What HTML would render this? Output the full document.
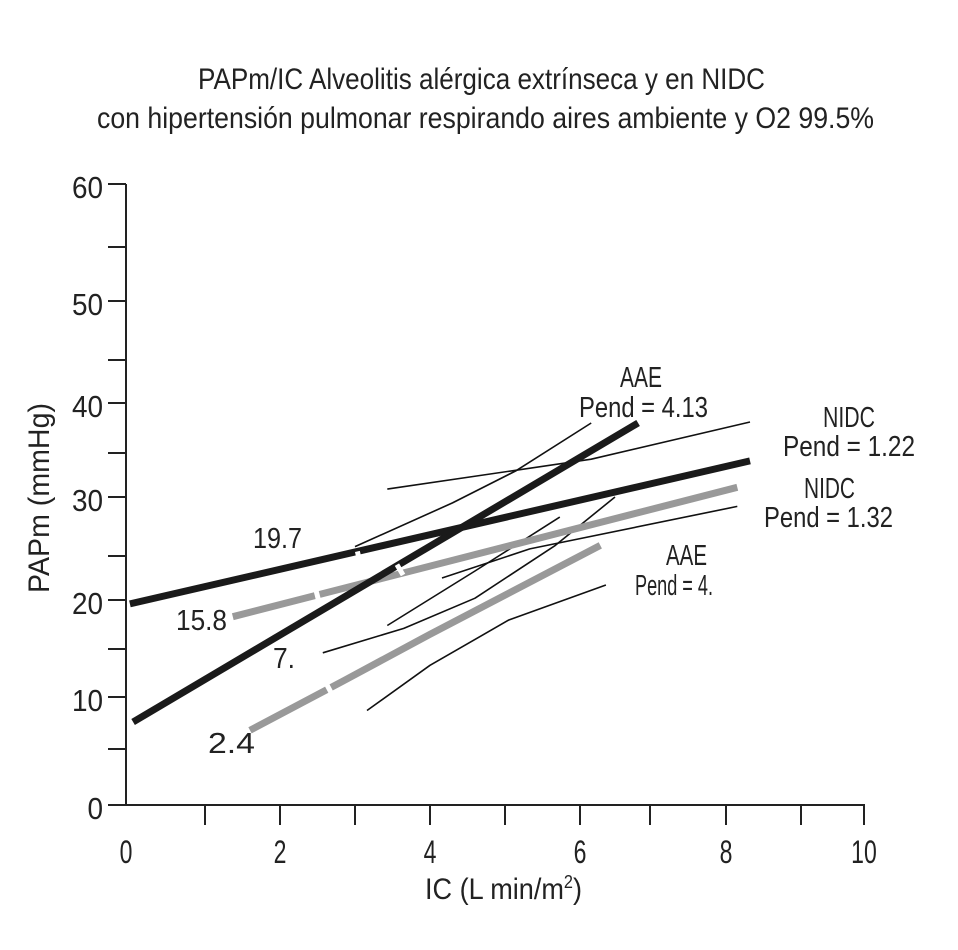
<!DOCTYPE html>
<html><head><meta charset="utf-8"><style>
html,body{margin:0;padding:0;background:#fff;}
svg{display:block;font-family:"Liberation Sans",sans-serif;}
</style></head><body>
<svg id="chart" width="958" height="950" viewBox="0 0 958 950" xmlns="http://www.w3.org/2000/svg">
<rect width="958" height="950" fill="#fff"/>
<g fill="#222" font-size="30">
<text x="198" y="89" textLength="567" lengthAdjust="spacingAndGlyphs">PAPm/IC Alveolitis alérgica extrínseca y en NIDC</text>
<text x="97" y="128" textLength="777" lengthAdjust="spacingAndGlyphs">con hipertensión pulmonar respirando aires ambiente y O2 99.5%</text>
</g>
<g id="axes"></g>
<g id="marks"></g>
<g fill="#222" font-size="29">
<text x="620" y="387" textLength="42" lengthAdjust="spacingAndGlyphs">AAE</text>
<text x="579" y="417" textLength="129" lengthAdjust="spacingAndGlyphs">Pend = 4.13</text>
<text x="823" y="427" textLength="52" lengthAdjust="spacingAndGlyphs">NIDC</text>
<text x="783" y="456" textLength="132" lengthAdjust="spacingAndGlyphs">Pend = 1.22</text>
<text x="804" y="498" textLength="51" lengthAdjust="spacingAndGlyphs">NIDC</text>
<text x="764" y="527" textLength="129" lengthAdjust="spacingAndGlyphs">Pend = 1.32</text>
<text x="666" y="565" textLength="41" lengthAdjust="spacingAndGlyphs">AAE</text>
<text x="635" y="595" textLength="78" lengthAdjust="spacingAndGlyphs">Pend = 4.</text>
<text x="253" y="548" textLength="49" lengthAdjust="spacingAndGlyphs">19.7</text>
<text x="176" y="630" textLength="51" lengthAdjust="spacingAndGlyphs">15.8</text>
<text x="273" y="668" textLength="22" lengthAdjust="spacingAndGlyphs">7.</text>
<text x="208" y="753" textLength="47" lengthAdjust="spacingAndGlyphs">2.4</text>
</g>
</svg>
<script>
const xTickVals=[0,1,2,3,4,5,6,7,8,9,10];
const xTickPx=[126,205,280,355,430,505,580,650,726,801,864];
const yTickVals=[0,5,10,15,20,25,30,35,40,45,50,55,60];
const yTickPx=[805,749,697,649,600,556,497,453,403,360,301,247,184];
const xLabels=["0","2","4","6","8","10"];
const yLabels=["0","10","20","30","40","50","60"];
// series (IC, PAPm)
const nidcBlackX=[0.05,8.32];
const nidcBlackY=[19.6,34.1];
const aaeBlackX=[0.09,6.83];
const aaeBlackY=[7.6,38.0];
const nidcGrayX=[1.37,8.15];
const nidcGrayY=[18.3,31.1];
const aaeGrayX=[1.6,2.85,4.0,6.29];
const aaeGrayY=[6.8,11.7,16.5,25.9];
const ciAX=[3.0,4.3,5.15,6.16];const ciAY=[25.8,29.5,33.0,38.0];
const ciBX=[3.43,6.16,8.32];const ciBY=[30.9,34.3,38.1];
const ciCX=[4.16,5.33,8.15];const ciCY=[22.5,25.6,29.2];
const ciDX=[3.43,4.6,5.73];const ciDY=[17.4,23.3,28.3];
const ciEX=[2.57,3.65,4.6,5.67,6.5];const ciEY=[14.6,17.1,20.2,25.9,30.0];
const ciFX=[3.16,4.0,5.05,6.37];const ciFY=[8.7,13.3,17.96,21.7];

function interp(v,vals,px){
  for(let i=0;i<vals.length-1;i++){
    if(v<=vals[i+1]||i===vals.length-2){
      const t=(v-vals[i])/(vals[i+1]-vals[i]);
      return px[i]+t*(px[i+1]-px[i]);
    }
  }
}
function sx(v){return interp(v,xTickVals,xTickPx);}
function sy(v){return interp(v,yTickVals,yTickPx);}
const NS="http://www.w3.org/2000/svg";
function mk(tag,attrs,parent){const e=document.createElementNS(NS,tag);for(const k in attrs)e.setAttribute(k,attrs[k]);parent.appendChild(e);return e;}
const axes=document.getElementById('axes');
const marks=document.getElementById('marks');
let yAxis=mk('line',{x1:126,y1:sy(60),x2:126,y2:sy(0),stroke:'#222','stroke-width':2},axes);


let xAxis=mk('line',{x1:125,y1:sy(0),x2:sx(10)+1,y2:sy(0),stroke:'#222','stroke-width':2},axes);


yTickVals.forEach(v=>{
  const t=mk('line',{x1:108,y1:sy(v),x2:126,y2:sy(v),stroke:'#222','stroke-width':2},axes);
  
  
});
yLabels.forEach(l=>{
  const t=mk('text',{x:103,y:sy(+l)+14,'text-anchor':'end','font-size':31,fill:'#222',transform:`translate(103 0) scale(0.9 1) translate(-103 0)`},axes);
  t.textContent=l;
  
  
});
xTickVals.forEach(v=>{
  if(v===0)return;
  const t=mk('line',{x1:sx(v),y1:sy(0),x2:sx(v),y2:sy(0)+20,stroke:'#222','stroke-width':2},axes);
  
  
});
xLabels.forEach(l=>{
  const t=mk('text',{x:sx(+l),y:863,'text-anchor':'middle','font-size':32,fill:'#222',transform:`translate(${sx(+l)} 0) scale(0.72 1) translate(${-sx(+l)} 0)`},axes);
  t.textContent=l;
  
  
});
const xt=mk('text',{x:425,y:899,'font-size':30,fill:'#222',textLength:157,lengthAdjust:'spacingAndGlyphs'},axes);
xt.innerHTML='IC (L min/m<tspan font-size="18" dy="-11">2</tspan><tspan dy="11">)</tspan>';


const yt=mk('text',{x:0,y:0,'font-size':30,fill:'#222',textLength:190,lengthAdjust:'spacingAndGlyphs',transform:'translate(49 593) rotate(-90)'},axes);
yt.textContent='PAPm (mmHg)';



function pathD(xs,ys){return xs.map((x,i)=>(i?'L':'M')+sx(x).toFixed(1)+' '+sy(ys[i]).toFixed(1)).join(' ');}
function series(xs,ys,color,w,name){
  const p=mk('path',{d:pathD(xs,ys),fill:'none',stroke:color,'stroke-width':w,'stroke-linecap':'butt','stroke-linejoin':'round'},marks);
  
  
  return p;
}
function gap(xs,ys,gx,name){
  let i=0;while(i<xs.length-2&&gx>xs[i+1])i++;
  const t=(gx-xs[i])/(xs[i+1]-xs[i]);
  const gy=ys[i]+t*(ys[i+1]-ys[i]);
  const px=sx(gx),py=sy(gy);
  const dx=sx(xs[i+1])-sx(xs[i]),dy=sy(ys[i+1])-sy(ys[i]);
  const L=Math.hypot(dx,dy),nx=-dy/L*6,ny=dx/L*6;
  const g=mk('line',{x1:px-nx,y1:py-ny,x2:px+nx,y2:py+ny,stroke:'#fff','stroke-width':5},marks);
  
  
}
series(ciAX,ciAY,'#111',1.6,'ci-aae-black-upper');
series(ciBX,ciBY,'#111',1.6,'ci-nidc-black-upper');
series(ciCX,ciCY,'#111',1.6,'ci-nidc-gray-lower');
series(ciDX,ciDY,'#111',1.6,'ci-aae-black-lower');
series(ciEX,ciEY,'#111',1.6,'ci-aae-gray-upper');
series(ciFX,ciFY,'#111',1.6,'ci-aae-gray-lower');
series(aaeGrayX,aaeGrayY,'#999',7,'line-aae-gray');
gap(aaeGrayX,aaeGrayY,2.65,'gap-aae-gray');
series(nidcGrayX,nidcGrayY,'#999',7,'line-nidc-gray');
gap(nidcGrayX,nidcGrayY,2.5,'gap-nidc-gray');
series(aaeBlackX,aaeBlackY,'#1a1a1a',7,'line-aae-black');
gap(aaeBlackX,aaeBlackY,3.6,'gap-aae-black');
series(nidcBlackX,nidcBlackY,'#1a1a1a',7,'line-nidc-black');
gap(nidcBlackX,nidcBlackY,3.05,'gap-nidc-black');
</script>
</body></html>
